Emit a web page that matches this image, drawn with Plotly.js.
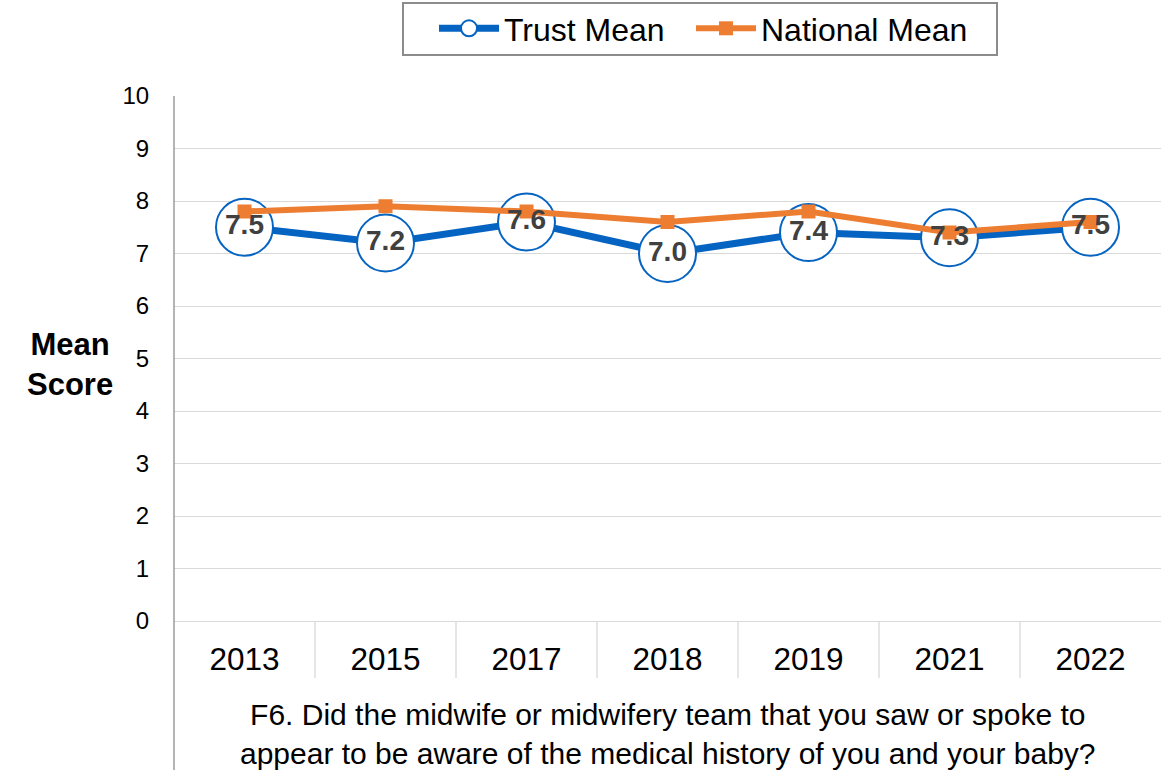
<!DOCTYPE html>
<html>
<head>
<meta charset="utf-8">
<script src="https://cdn.plot.ly/plotly-3.0.1.min.js"></script>
<style>html,body{margin:0;padding:0;background:#fff;}#chart{width:1166px;height:770px;}</style>
</head>
<body>
<div id="chart"></div>
<script>
const years = ['2013', '2015', '2017', '2018', '2019', '2021', '2022'];
const trustMean = [7.5, 7.2, 7.6, 7.0, 7.4, 7.3, 7.5];
const nationalMean = [7.8, 7.9, 7.8, 7.6, 7.8, 7.4, 7.6];
const yTicks = [0, 1, 2, 3, 4, 5, 6, 7, 8, 9, 10];
const xTitleLines = ['F6. Did the midwife or midwifery team that you saw or spoke to',
                     'appear to be aware of the medical history of you and your baby?'];
const yTitleLines = ['Mean', 'Score'];

const FONT = 'Liberation Sans, Arial, sans-serif';
const BLUE = '#0563c1';
const ORANGE = '#ed7d31';

const traces = [
  {
    x: years, y: trustMean, name: 'Trust Mean', type: 'scatter', mode: 'lines+markers',
    line: {color: BLUE, width: 7},
    marker: {symbol: 'circle', size: 57, color: '#ffffff', line: {color: BLUE, width: 2}},
    hoverinfo: 'skip', legend: 'legend'
  },
  {
    x: years, y: nationalMean, name: 'National Mean', type: 'scatter', mode: 'lines+markers',
    line: {color: ORANGE, width: 6},
    marker: {symbol: 'square', size: 14, color: ORANGE},
    hoverinfo: 'skip', legend: 'legend2'
  },
  {
    x: years, y: trustMean, type: 'scatter', mode: 'text', showlegend: false,
    text: trustMean.map(v => v.toFixed(1)), textposition: 'middle center',
    textfont: {family: FONT, size: 28, color: '#404040', weight: 'bold'},
    hoverinfo: 'skip'
  }
];

const W = 1166 - 174 - 5;
const plotH = 770 - 96 - 149;
const px = v => (v - 174) / W;
const py = v => (621 - v) / plotH;

const shapes = [];
for (let i = 0; i < years.length - 1; i++) {
  shapes.push({type: 'line', xref: 'x', yref: 'paper', x0: i + 0.5, x1: i + 0.5,
    y0: 0, y1: py(678), line: {color: '#d9d9d9', width: 1.3}});
}
shapes.push({type: 'line', xref: 'paper', yref: 'paper', x0: 0, x1: 0,
  y0: 1, y1: py(770), line: {color: '#8c8c8c', width: 1.3}});
// legend frame
shapes.push({type: 'rect', xref: 'paper', yref: 'paper', x0: px(403), x1: px(997),
  y0: py(55), y1: py(3), line: {color: '#8c8c8c', width: 2}, fillcolor: 'rgba(0,0,0,0)'});

const legendBase = {
  orientation: 'h', xanchor: 'left', y: py(1), yanchor: 'top',
  font: {family: FONT, size: 32, color: '#000000'},
  borderwidth: 0, bgcolor: 'rgba(0,0,0,0)', itemwidth: 60
};

const layout = {
  width: 1166, height: 770,
  margin: {l: 174, r: 5, t: 96, b: 149, autoexpand: false},
  paper_bgcolor: '#ffffff', plot_bgcolor: '#ffffff',
  font: {family: FONT, color: '#000000'},
  showlegend: true,
  legend: Object.assign({}, legendBase, {x: px(434)}),
  legend2: Object.assign({}, legendBase, {x: px(691)}),
  xaxis: {
    type: 'category', range: [-0.5, 6.5], showgrid: false, zeroline: false,
    showline: true, linecolor: '#d9d9d9', linewidth: 1.3,
    ticks: 'outside', ticklen: 10, tickcolor: 'rgba(0,0,0,0)',
    tickfont: {family: FONT, size: 31.5, color: '#000000'}, fixedrange: true
  },
  yaxis: {
    range: [0, 10], tickvals: yTicks, showgrid: true, gridcolor: '#d9d9d9', gridwidth: 1,
    zeroline: false, showline: false,
    ticks: 'outside', ticklen: 19, tickcolor: 'rgba(0,0,0,0)',
    tickfont: {family: FONT, size: 24, color: '#000000'}, fixedrange: true
  },
  shapes: shapes,
  annotations: [
    {xref: 'paper', yref: 'paper', x: 0.5, y: py(734), yanchor: 'middle', showarrow: false,
     text: xTitleLines.join('<br>'), font: {family: FONT, size: 30, color: '#000000'}},
    {xref: 'paper', yref: 'paper', x: px(70), xanchor: 'center', y: py(364), yanchor: 'middle', showarrow: false,
     text: yTitleLines.map(s => '<b>' + s + '</b>').join('<br>'), font: {family: FONT, size: 31, color: '#000000'}}
  ]
};

Plotly.newPlot('chart', traces, layout, {displayModeBar: false, staticPlot: true});
</script>
</body>
</html>
